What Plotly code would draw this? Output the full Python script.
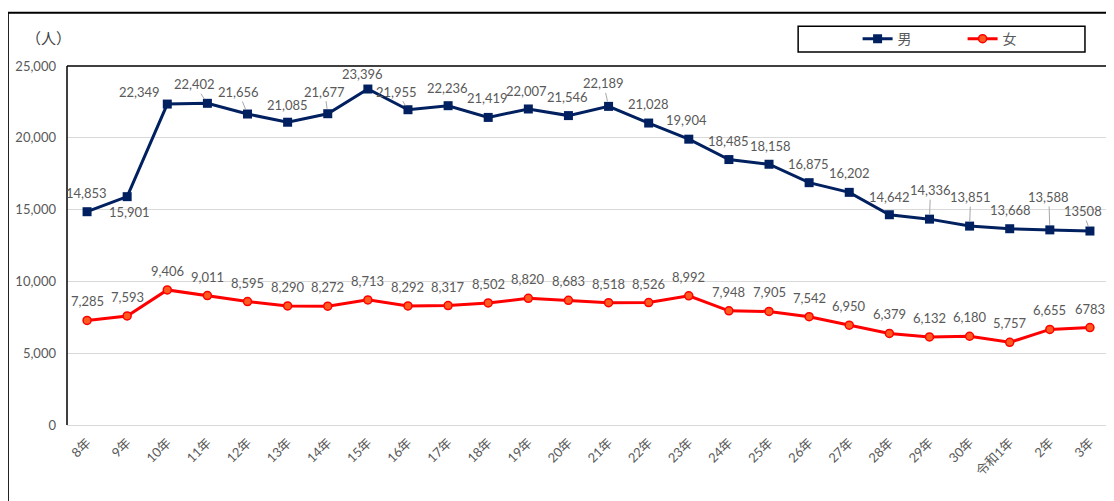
import plotly.graph_objects as go

years = ["8年", "9年", "10年", "11年", "12年", "13年", "14年", "15年", "16年", "17年",
         "18年", "19年", "20年", "21年", "22年", "23年", "24年", "25年", "26年", "27年",
         "28年", "29年", "30年", "令和1年", "2年", "3年"]

male = [14853, 15901, 22349, 22402, 21656, 21085, 21677, 23396, 21955, 22236,
        21419, 22007, 21546, 22189, 21028, 19904, 18485, 18158, 16875, 16202,
        14642, 14336, 13851, 13668, 13588, 13508]

female = [7285, 7593, 9406, 9011, 8595, 8290, 8272, 8713, 8292, 8317,
          8502, 8820, 8683, 8518, 8526, 8992, 7948, 7905, 7542, 6950,
          6379, 6132, 6180, 5757, 6655, 6783]

# the last point of each series is printed without a thousands separator in the source
male_labels = [f"{v:,}" for v in male[:-1]] + [str(male[-1])]
female_labels = [f"{v:,}" for v in female[:-1]] + [str(female[-1])]

# male label offsets in pixels (dx, dy, leader line); female labels all sit above
male_off = [(-1, -19, 0), (2, 15, 0), (-28, -12, 0), (-13, -19, 1), (-9, -22, 1),
            (0, -17, 0), (-3, -22, 1), (-5, -15, 0), (-11, -18, 1), (-1, -18, 0),
            (-1, -19, 0), (-2, -18, 0), (-1, -19, 0), (-5, -23, 1), (0, -19, 0),
            (-2, -19, 0), (0, -19, 0), (1, -18, 0), (-1, -19, 0), (0, -19, 0),
            (0, -18, 0), (1, -29, 1), (1, -29, 1), (1, -19, 0), (-1, -33, 1),
            (-7, -20, 1)]
FEMALE_DY = -19

NAVY = "#002060"
RED = "#FF0000"
GRAY = "#595959"
FONT = "Lato, Noto Sans CJK JP, sans-serif"

fig = go.Figure()
fig.add_trace(go.Scatter(
    x=years, y=male, name="男", mode="lines+markers",
    line=dict(color=NAVY, width=3),
    marker=dict(symbol="square", size=9, color=NAVY),
))
fig.add_trace(go.Scatter(
    x=years, y=female, name="女", mode="lines+markers",
    line=dict(color=RED, width=3),
    marker=dict(symbol="circle", size=8, color="#FF5A1F", line=dict(color=RED, width=1.5)),
))

annotations = []
for x, v, t, (dx, dy, lead) in zip(years, male, male_labels, male_off):
    a = dict(x=x, y=v, text=t, font=dict(family=FONT, size=13, color=GRAY))
    if lead:
        a.update(showarrow=True, ax=dx, ay=dy, arrowhead=0, arrowwidth=1,
                 arrowcolor="#A6A6A6", standoff=5)
    else:
        a.update(showarrow=False, xshift=dx, yshift=-dy)
    annotations.append(a)
for x, v, t in zip(years, female, female_labels):
    annotations.append(dict(x=x, y=v, text=t, showarrow=False, yshift=-FEMALE_DY,
                            font=dict(family=FONT, size=13, color=GRAY)))
annotations.append(dict(xref="paper", yref="paper", x=-0.018, y=1.078, text="（人）",
                        xanchor="center", yanchor="middle", showarrow=False,
                        font=dict(family=FONT, size=15, color="#404040")))

shapes = [
    # outer chart frame
    dict(type="rect", xref="paper", yref="paper", x0=-0.0567, x1=1.03, y0=-0.4, y1=1.148,
         line=dict(color="black", width=2)),
    # plot area frame (left, top, right)
    dict(type="line", xref="paper", yref="paper", x0=0, x1=0, y0=0, y1=1,
         line=dict(color="black", width=1.5)),
    dict(type="line", xref="paper", yref="paper", x0=0, x1=1, y0=1, y1=1,
         line=dict(color="black", width=1.5)),
    dict(type="line", xref="paper", yref="paper", x0=1, x1=1, y0=0, y1=1,
         line=dict(color="black", width=1.5)),
    # legend box
    dict(type="rect", xref="paper", yref="paper", x0=0.701, x1=0.976, y0=1.039, y1=1.111,
         line=dict(color="black", width=1.5), fillcolor="white", layer="below"),
]

fig.update_layout(
    width=1114, height=501,
    # the page body adds 8px around the figure, so margins are shifted to compensate
    margin=dict(l=59, r=12, t=58, b=84, autoexpand=False),
    paper_bgcolor="white", plot_bgcolor="white",
    font=dict(family=FONT, size=13, color=GRAY),
    showlegend=True,
    legend=dict(orientation="h", x=0.758, y=1.075, xanchor="left", yanchor="middle",
                entrywidth=60, bgcolor="rgba(0,0,0,0)", font=dict(size=14, color=GRAY),
                itemwidth=30),
    annotations=annotations,
    shapes=shapes,
    xaxis=dict(type="category", range=[-0.5, 25.5], tickangle=-45, showgrid=False,
               showline=True, linecolor="#D9D9D9", linewidth=1, ticks="",
               ticklabelstandoff=4,
               tickfont=dict(family=FONT, size=13, color=GRAY)),
    yaxis=dict(range=[0, 25000], dtick=5000, tickformat=",d", showgrid=True,
               gridcolor="#D9D9D9", gridwidth=1, zeroline=False, ticks="",
               ticklabelstandoff=10, tickfont=dict(family=FONT, size=13, color=GRAY)),
)

fig.write_html("out.html")
